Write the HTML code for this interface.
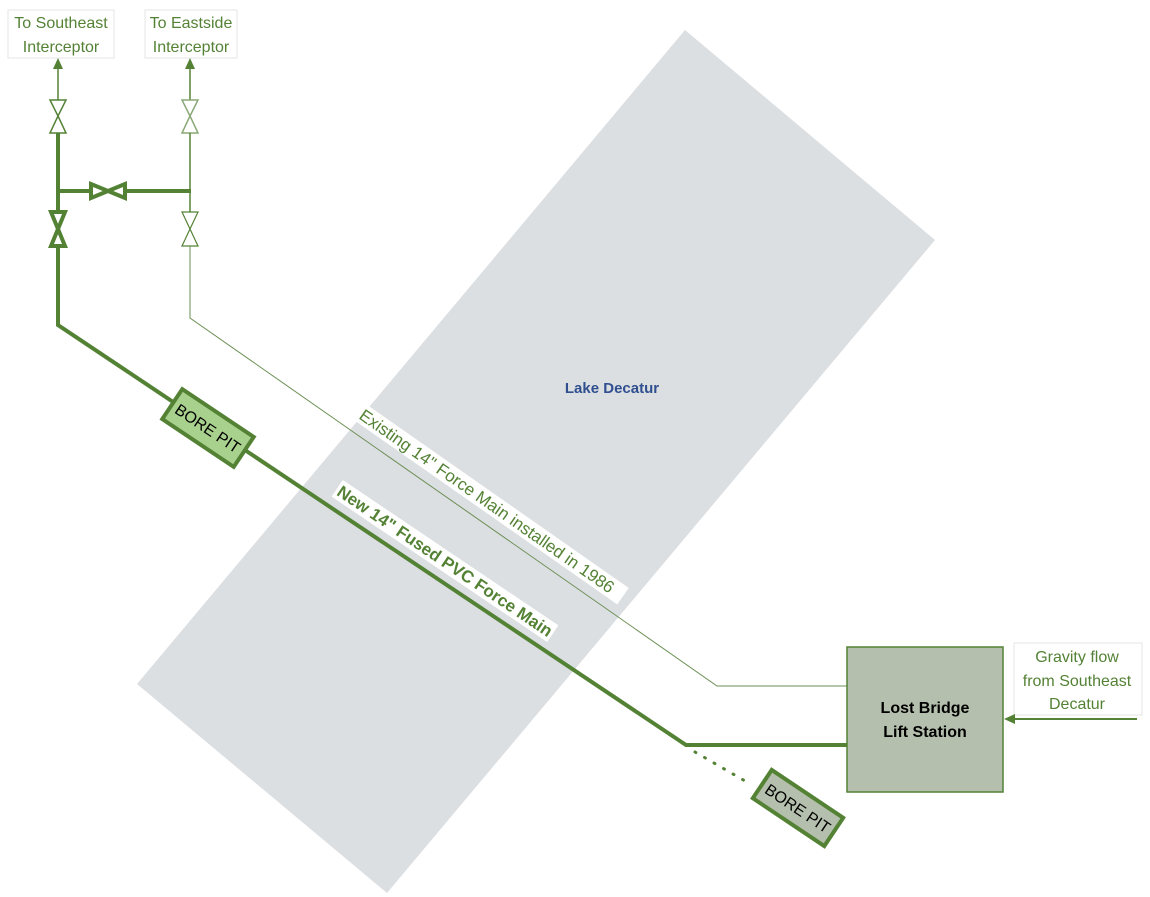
<!DOCTYPE html>
<html><head><meta charset="utf-8"><style>
body{margin:0;background:#fff;}
svg{display:block;font-family:"Liberation Sans",sans-serif;}
</style></head><body>
<svg width="1150" height="897" viewBox="0 0 1150 897" xmlns="http://www.w3.org/2000/svg">
<polygon points="685,30 935,240 387,893 137,684" fill="#dcdfe2"/>
<text x="612" y="393" font-size="15" font-weight="bold" fill="#2f4f8f" text-anchor="middle">Lake Decatur</text>

<rect x="8" y="10" width="106" height="48" fill="#fff" stroke="#e6e6e6"/>
<text x="61" y="28" font-size="16" fill="#548235" text-anchor="middle">To Southeast</text>
<text x="61" y="52" font-size="16" fill="#548235" text-anchor="middle">Interceptor</text>
<rect x="145" y="10" width="92" height="48" fill="#fff" stroke="#e6e6e6"/>
<text x="191" y="28" font-size="16" fill="#548235" text-anchor="middle">To Eastside</text>
<text x="191" y="52" font-size="16" fill="#548235" text-anchor="middle">Interceptor</text>

<line x1="58" y1="68" x2="58" y2="100" stroke="#548235" stroke-width="1.5"/>
<polygon points="58,58 53,69 63,69" fill="#548235"/>
<polygon points="50,100 66,100 58,116 66,133 50,133 58,116" fill="#fff" stroke="#548235" stroke-width="1.5"/>
<line x1="58" y1="133" x2="58" y2="211" stroke="#548235" stroke-width="4"/>
<polygon points="51,212 65,212 58,229 65,246 51,246 58,229" fill="#fff" stroke="#548235" stroke-width="4"/>
<polyline points="58,247 58,325 686,745 847,745" fill="none" stroke="#548235" stroke-width="4"/>
<line x1="58" y1="191" x2="90" y2="191" stroke="#548235" stroke-width="4"/>
<line x1="125" y1="191" x2="191" y2="191" stroke="#548235" stroke-width="4"/>
<polygon points="91,184 91,198 108,191 125,184 125,198 108,191" fill="#fff" stroke="#548235" stroke-width="4"/>

<line x1="190" y1="68" x2="190" y2="100" stroke="#548235" stroke-width="1.5"/>
<polygon points="190,58 185,69 195,69" fill="#548235"/>
<polygon points="182,100 198,100 190,116 198,133 182,133 190,116" fill="#fff" stroke="#8aa877" stroke-width="1.5"/>
<line x1="190" y1="133" x2="190" y2="212" stroke="#548235" stroke-width="1.5"/>
<polygon points="182,212 198,212 190,229 198,246 182,246 190,229" fill="#fff" stroke="#548235" stroke-width="1.2"/>
<polyline points="190,246 190,318 717,686 847,686" fill="none" stroke="#6b8f55" stroke-width="1"/>

<g transform="translate(208,428) rotate(33.8)">
<rect x="-43" y="-18" width="86" height="36" fill="#a9d18e" stroke="#548235" stroke-width="4"/>
<text x="0" y="6" font-size="16" fill="#000" text-anchor="middle">BORE PIT</text>
</g>
<line x1="695" y1="752" x2="752" y2="785" stroke="#548235" stroke-width="3" stroke-dasharray="1,10" stroke-linecap="round"/>
<g transform="translate(798,808) rotate(33.8)">
<rect x="-43" y="-17" width="86" height="34" fill="#b5bfad" stroke="#548235" stroke-width="4"/>
<text x="0" y="6" font-size="16" fill="#000" text-anchor="middle">BORE PIT</text>
</g>

<g transform="translate(487,501) rotate(35)">
<rect x="-166" y="-10" width="332" height="20" fill="#fff"/>
<text x="0" y="6" font-size="17" fill="#548235" text-anchor="middle">Existing 14" Force Main installed in 1986</text>
</g>
<g transform="translate(445,561) rotate(34)">
<rect x="-130" y="-10" width="260" height="20" fill="#fff"/>
<text x="0" y="6" font-size="17" font-weight="bold" fill="#548235" text-anchor="middle">New 14" Fused PVC Force Main</text>
</g>

<rect x="847" y="647" width="156" height="145" fill="#b5bfad" stroke="#548235" stroke-width="1.5"/>
<text x="925" y="713" font-size="16" font-weight="bold" fill="#000" text-anchor="middle">Lost Bridge</text>
<text x="925" y="737" font-size="16" font-weight="bold" fill="#000" text-anchor="middle">Lift Station</text>

<rect x="1014" y="643" width="128" height="72" fill="#fff" stroke="#e6e6e6"/>
<text x="1077" y="662" font-size="16" fill="#548235" text-anchor="middle">Gravity flow</text>
<text x="1077" y="686" font-size="16" fill="#548235" text-anchor="middle">from Southeast</text>
<text x="1077" y="709" font-size="16" fill="#548235" text-anchor="middle">Decatur</text>
<line x1="1014" y1="719" x2="1137" y2="719" stroke="#548235" stroke-width="2"/>
<polygon points="1004,719 1015,714 1015,724" fill="#548235"/>
</svg>
</body></html>
